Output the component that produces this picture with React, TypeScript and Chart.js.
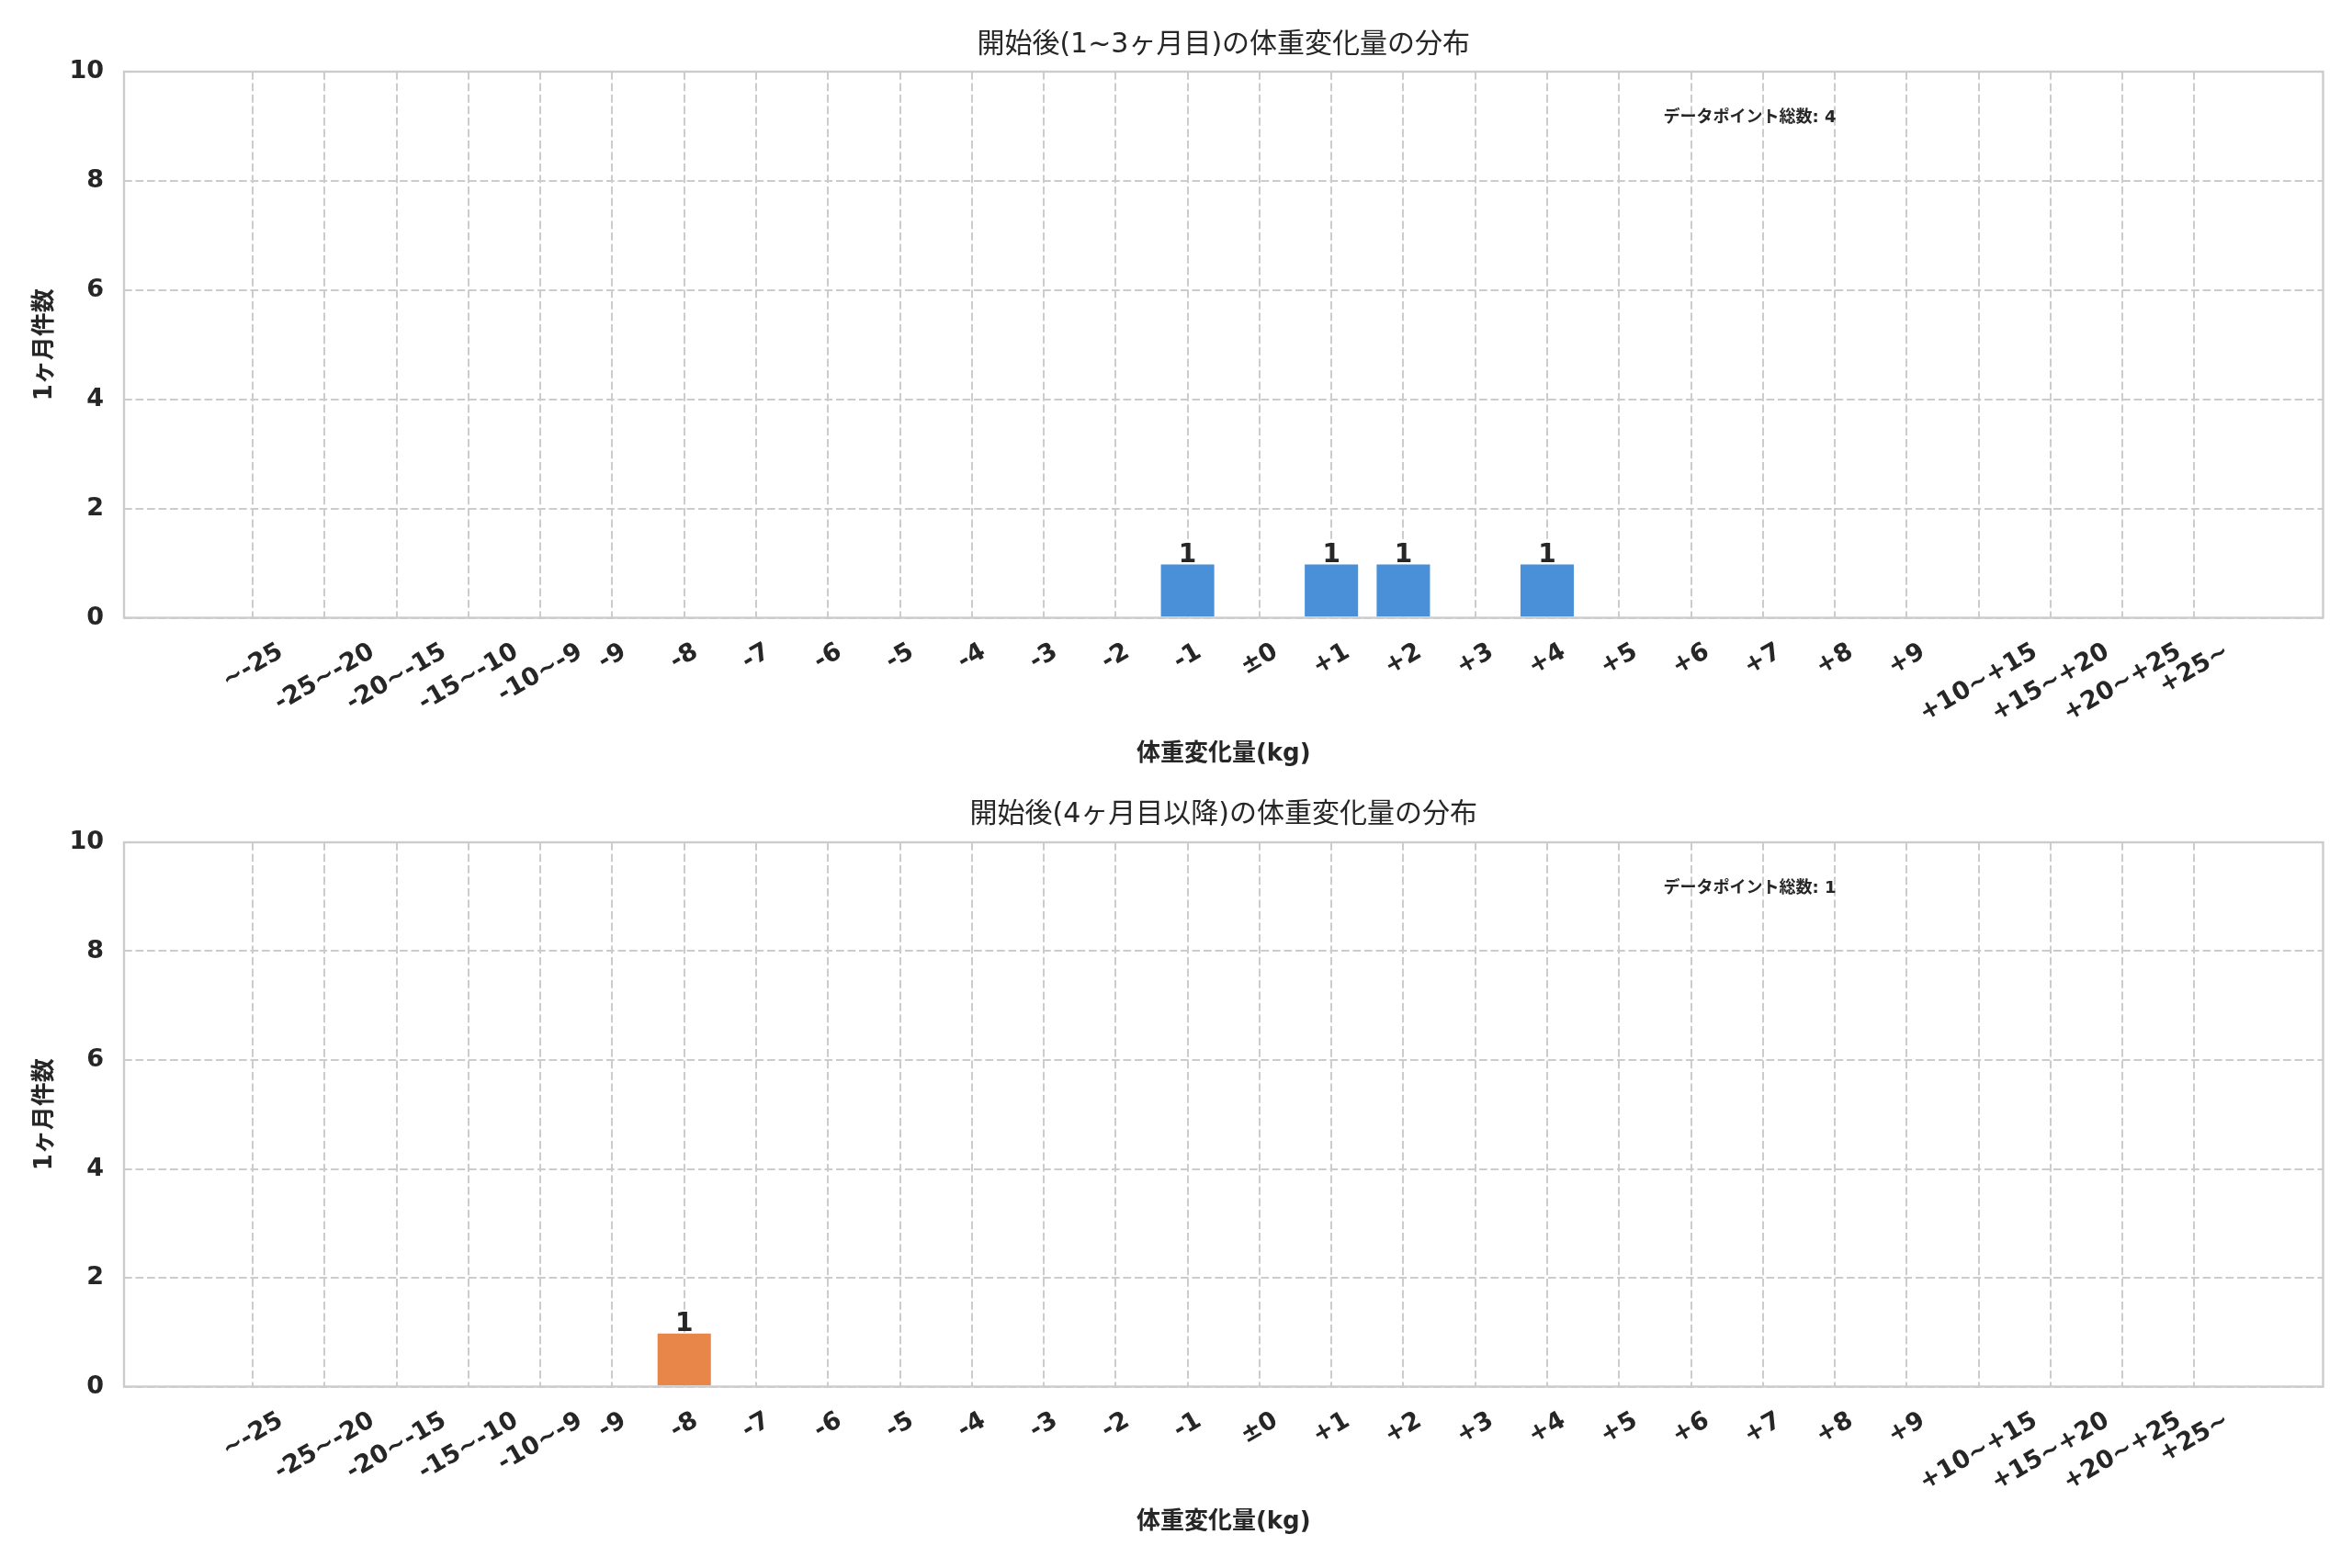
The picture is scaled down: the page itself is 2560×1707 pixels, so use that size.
import React, { useEffect, useRef } from 'react';
import { Chart, registerables } from 'chart.js';

Chart.register(...registerables);

// ---------- data ----------
const CATEGORIES = [
  '~-25', '-25~-20', '-20~-15', '-15~-10', '-10~-9',
  '-9', '-8', '-7', '-6', '-5', '-4', '-3', '-2', '-1',
  '±0',
  '+1', '+2', '+3', '+4', '+5', '+6', '+7', '+8', '+9',
  '+10~+15', '+15~+20', '+20~+25', '+25~',
];

// 1~3ヶ月目
const SHORT_TERM_COUNTS = [
  0, 0, 0, 0, 0,
  0, 0, 0, 0, 0, 0, 0, 0, 1,
  0,
  1, 1, 0, 1, 0, 0, 0, 0, 0,
  0, 0, 0, 0,
];

// 4ヶ月目以降
const LONG_TERM_COUNTS = [
  0, 0, 0, 0, 0,
  0, 1, 0, 0, 0, 0, 0, 0, 0,
  0,
  0, 0, 0, 0, 0, 0, 0, 0, 0,
  0, 0, 0, 0,
];

const Y_TICKS = [0, 2, 4, 6, 8, 10];

const TITLE_SHORT = '開始後(1~3ヶ月目)の体重変化量の分布';
const TITLE_LONG = '開始後(4ヶ月目以降)の体重変化量の分布';
const X_LABEL = '体重変化量(kg)';
const Y_LABEL = '1ヶ月件数';
const TOTAL_LABEL = 'データポイント総数';

// ---------- style ----------
const W = 2560;
const FONT = '"DejaVu Sans", "Noto Sans CJK JP", sans-serif';
const TEXT = '#262626';
const GRID = '#cccccc';

type PanelCfg = {
  height: number;
  top: number;
  bottom: number;
  titleY: number;
  xTitleY: number;
  title: string;
  values: number[];
  color: string;
};

function makeTextPlugin(cfg: PanelCfg) {
  return {
    id: 'panelText',
    afterDraw(chart: any) {
      const { ctx, chartArea: ca, scales } = chart;
      const xs = scales.x;
      ctx.save();
      ctx.setLineDash([]);

      // frame
      ctx.strokeStyle = GRID;
      ctx.lineWidth = 2.4;
      ctx.strokeRect(ca.left, ca.top, ca.right - ca.left, ca.bottom - ca.top);

      ctx.fillStyle = TEXT;

      // x tick labels (rotated 30°, centred on the tick)
      const fs = 27;
      ctx.font = `bold ${fs}px ${FONT}`;
      const ang = (30 * Math.PI) / 180;
      const h = fs * 1.17;
      CATEGORIES.forEach((lab, i) => {
        const px = xs.getPixelForValue(i);
        const w = ctx.measureText(lab).width;
        const bh = w * Math.sin(ang) + h * Math.cos(ang);
        const cy = ca.bottom + 21.5 + bh / 2;
        ctx.save();
        ctx.translate(px, cy);
        ctx.rotate(-ang);
        ctx.textAlign = 'center';
        ctx.textBaseline = 'middle';
        ctx.fillText(lab, 0, 0);
        ctx.restore();
      });

      // value labels
      const meta = chart.getDatasetMeta(0);
      ctx.font = `bold 28px ${FONT}`;
      ctx.textAlign = 'center';
      ctx.textBaseline = 'alphabetic';
      meta.data.forEach((bar: any, i: number) => {
        const v = cfg.values[i];
        if (v > 0) ctx.fillText(String(v), bar.x, bar.y - 1);
      });

      const cx = (ca.left + ca.right) / 2;

      // title
      ctx.font = `normal 30px ${FONT}`;
      ctx.textAlign = 'center';
      ctx.textBaseline = 'middle';
      ctx.fillText(cfg.title, cx, cfg.titleY);

      // x axis title
      ctx.font = `bold 26px ${FONT}`;
      ctx.fillText(X_LABEL, cx, cfg.xTitleY);

      // y axis title
      ctx.save();
      ctx.translate(49, (ca.top + ca.bottom) / 2);
      ctx.rotate(-Math.PI / 2);
      ctx.fillText(Y_LABEL, 0, 0);
      ctx.restore();

      // total annotation
      const total = cfg.values.reduce((a, b) => a + b, 0);
      ctx.font = `bold 18px ${FONT}`;
      ctx.textAlign = 'left';
      ctx.textBaseline = 'middle';
      ctx.fillText(
        `${TOTAL_LABEL}: ${total}`,
        ca.left + 0.7 * (ca.right - ca.left),
        ca.top + 0.085 * (ca.bottom - ca.top)
      );

      ctx.restore();
    },
  };
}

function BarPanel({ cfg }: { cfg: PanelCfg }) {
  const ref = useRef<HTMLCanvasElement | null>(null);

  useEffect(() => {
    if (!ref.current) return;
    const xHeight = cfg.height - cfg.bottom;
    const chart = new Chart(ref.current, {
      type: 'bar',
      data: {
        datasets: [
          {
            data: cfg.values.map((v, i) => ({ x: i, y: v })),
            backgroundColor: cfg.color,
            borderColor: 'rgba(255,255,255,0.35)',
            borderWidth: 1.5,
            categoryPercentage: 1,
            barPercentage: 0.78,
          },
        ],
      },
      options: {
        responsive: false,
        maintainAspectRatio: false,
        devicePixelRatio: 1,
        animation: false,
        events: [],
        layout: {
          padding: { top: cfg.top, right: W - 2528.5, bottom: 0, left: 0 },
        },
        plugins: {
          legend: { display: false },
          tooltip: { enabled: false },
          title: { display: false },
        },
        scales: {
          x: {
            type: 'linear',
            offset: false,
            min: -1.79,
            max: CATEGORIES.length - 1 + 1.79,
            afterBuildTicks: (scale: any) => {
              scale.ticks = CATEGORIES.map((_, i) => ({ value: i }));
            },
            afterFit: (scale: any) => {
              scale.height = xHeight;
            },
            ticks: { display: false },
            grid: {
              offset: false,
              color: GRID,
              lineWidth: 2,
              drawTicks: false,
            },
            border: { display: false, dash: [8.7, 3.8] },
          },
          y: {
            type: 'linear',
            min: Y_TICKS[0],
            max: Y_TICKS[Y_TICKS.length - 1],
            afterBuildTicks: (scale: any) => {
              scale.ticks = Y_TICKS.map((v) => ({ value: v }));
            },
            afterFit: (scale: any) => {
              scale.width = 135;
            },
            ticks: {
              padding: 22,
              color: TEXT,
              font: { family: FONT, size: 27, weight: 'bold' },
              callback: (v: any) => String(v),
            },
            grid: {
              color: GRID,
              lineWidth: 2,
              drawTicks: false,
            },
            border: { display: false, dash: [8.7, 3.8] },
          },
        },
      },
      plugins: [makeTextPlugin(cfg)],
    } as any);
    return () => chart.destroy();
  }, [cfg]);

  return (
    <canvas
      ref={ref}
      width={W}
      height={cfg.height}
      style={{ display: 'block', width: W, height: cfg.height }}
    />
  );
}

const PANEL_SHORT: PanelCfg = {
  height: 854,
  top: 78,
  bottom: 672.5,
  titleY: 49,
  xTitleY: 821,
  title: TITLE_SHORT,
  values: SHORT_TERM_COUNTS,
  color: '#4A90D9',
};

const PANEL_LONG: PanelCfg = {
  height: 853,
  top: 63,
  bottom: 655.5,
  titleY: 33,
  xTitleY: 803,
  title: TITLE_LONG,
  values: LONG_TERM_COUNTS,
  color: '#E8864A',
};

export default function App() {
  return (
    <div
      style={{
        position: 'absolute',
        left: 0,
        top: 0,
        width: W,
        height: 1707,
        background: '#ffffff',
        overflow: 'hidden',
      }}
    >
      <BarPanel cfg={PANEL_SHORT} />
      <BarPanel cfg={PANEL_LONG} />
    </div>
  );
}
